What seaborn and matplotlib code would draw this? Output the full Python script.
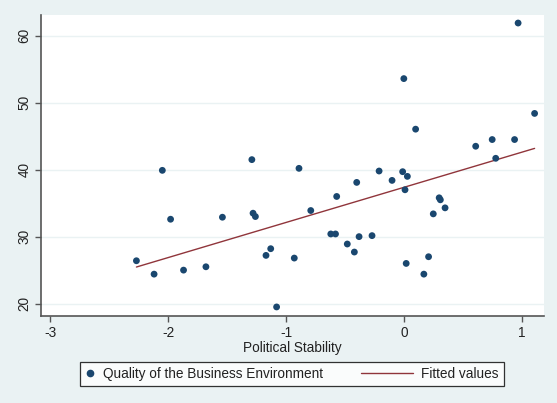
import numpy as np
import matplotlib
matplotlib.use("Agg")
import matplotlib.pyplot as plt
import pandas as pd
import seaborn as sns
from matplotlib.lines import Line2D
from matplotlib.legend_handler import HandlerLine2D

# values
stability = [-2.27, -2.12, -2.05, -1.98, -1.87, -1.68, -1.54, -1.29, -1.28, -1.26,
             -1.17, -1.13, -1.08, -0.93, -0.89, -0.79, -0.62, -0.58, -0.57, -0.48,
             -0.42, -0.40, -0.38, -0.27, -0.21, -0.10, -0.01, 0.00, 0.01, 0.03,
             0.02, 0.10, 0.17, 0.21, 0.25, 0.30, 0.31, 0.35, 0.61, 0.75,
             0.78, 0.94, 0.97, 1.11]
business = [26.4, 24.4, 39.9, 32.6, 25.0, 25.5, 32.9, 41.5, 33.5, 33.0,
            27.2, 28.2, 19.5, 26.8, 40.2, 33.9, 30.4, 30.4, 36.0, 28.9,
            27.7, 38.1, 30.0, 30.15, 39.8, 38.4, 39.7, 53.6, 37.0, 39.0,
            26.0, 46.05, 24.4, 27.0, 33.4, 35.8, 35.5, 34.3, 43.5, 44.5,
            41.7, 44.5, 61.9, 48.4]
x_ticks = [-3, -2, -1, 0, 1]
y_ticks = [20, 30, 40, 50, 60]

df = pd.DataFrame({'Political Stability': stability,
                   'Business': business})

navy = '#1A476F'
maroon = '#90353B'
bg = '#EAF2F3'

sns.set_theme(style='white')
plt.rcParams['font.family'] = ['Liberation Sans', 'DejaVu Sans']
plt.rcParams['axes.unicode_minus'] = False

fig = plt.figure(figsize=(5.57, 4.03), dpi=100, facecolor=bg)
ax = fig.add_axes([0.0736, 0.2159, 0.9031, 0.7469])
ax.set_facecolor('white')

sns.scatterplot(data=df, x='Political Stability', y='Business', ax=ax,
                color=navy, s=24, edgecolor='none', zorder=3)
sns.regplot(data=df, x='Political Stability', y='Business', ax=ax,
            scatter=False, ci=None, truncate=True,
            line_kws={'color': maroon, 'lw': 1.0, 'zorder': 2})

ax.set_xlim(-3.08, 1.19)
ax.set_ylim(18.15, 63.1)
ax.set_xticks(x_ticks)
ax.set_yticks(y_ticks)
ax.grid(axis='y', color=bg, lw=1.0)
ax.set_axisbelow(True)

for side in ['top', 'right']:
    ax.spines[side].set_visible(False)
for side in ['left', 'bottom']:
    ax.spines[side].set_color('#555555')
    ax.spines[side].set_linewidth(1.2)

ax.tick_params(axis='both', direction='out', length=4, width=1.0,
               color='#555555', labelsize=9.8, labelcolor='#222222',
               left=True, bottom=True, pad=3)
plt.setp(ax.get_yticklabels(), rotation=90, va='center')

ax.set_xlabel('Political Stability', fontsize=9.8, color='#222222', labelpad=1)
ax.set_ylabel('')


# the fitted-line key is drawn longer than the marker key
class LongLine(HandlerLine2D):
    def get_xdata(self, legend, xdescent, ydescent, width, height, fontsize):
        xd, xm = super().get_xdata(legend, xdescent, ydescent, width, height, fontsize)
        return np.array([-xdescent - 4.4 * width, -xdescent + width]), xm


dot = Line2D([], [], ls='none', marker='o', ms=4.5, color=navy)
fit = Line2D([], [], color=maroon, lw=1.0)
leg = fig.legend([dot, fit], ['Quality of the Business Environment', 'Fitted values'],
                 loc='center', bbox_to_anchor=(292 / 557, 1 - 374 / 403),
                 ncol=2, fontsize=9.8, frameon=True, fancybox=False,
                 handlelength=0.7, handletextpad=0.6, columnspacing=5.9,
                 borderpad=0.4, borderaxespad=0, handler_map={fit: LongLine()})
leg.get_frame().set_edgecolor('black')
leg.get_frame().set_linewidth(0.9)
leg.get_frame().set_facecolor('white')
for t in leg.get_texts():
    t.set_color('#222222')

fig.savefig('out.png', dpi=100, facecolor=bg)
